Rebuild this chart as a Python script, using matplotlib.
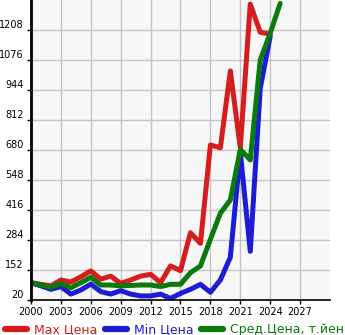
import matplotlib
matplotlib.use("Agg")
import matplotlib.pyplot as plt

# годы и цены (т.йен)
years_max = list(range(2000, 2025))
max_price = [96, 89, 82, 108, 99, 122, 148, 112, 125, 93, 108, 125, 133, 96, 170, 149,
             316, 269, 702, 690, 1028, 690, 1322, 1198, 1190]
years_min = list(range(2000, 2025))
min_price = [96, 82, 67, 79, 46, 64, 90, 57, 46, 61, 46, 38, 38, 46, 27, 49,
             67, 89, 54, 108, 208, 670, 234, 951, 1181]
years_avg = list(range(2000, 2026))
avg_price = [96, 86, 76, 93, 74, 96, 120, 86, 86, 82, 84, 86, 86, 79, 89, 89,
             140, 170, 287, 402, 460, 683, 636, 1076, 1194, 1325]

yticks = [20, 152, 284, 416, 548, 680, 812, 944, 1076, 1208]
xticks = list(range(2000, 2030, 3))

red = "#d61c1c"
blue = "#1c1cd6"
green = "#0a7a0a"

fig = plt.figure(figsize=(3.45, 3.35), dpi=100)
ax = fig.add_axes([31/345, 35/335, 299/345, 300/335])
ax.set_facecolor("#f7f7f7")

ax.plot(years_max, max_price, color=red, lw=3.6, label="Max Цена", solid_capstyle="round")
ax.plot(years_min, min_price, color=blue, lw=3.6, label="Min Цена", solid_capstyle="round")
ax.plot(years_avg, avg_price, color=green, lw=3.6, label="Сред.Цена, т.йен", solid_capstyle="round")

ax.set_xlim(2000, 2030)
ax.set_ylim(20, 1340)
ax.set_xticks(xticks)
ax.set_yticks(yticks)
ax.tick_params(labelsize=7, length=3, width=1, colors="black", pad=2)
for lbl in ax.get_yticklabels():
    lbl.set_verticalalignment("bottom")
ax.grid(True, color="#c4c4c4", lw=1)
ax.set_axisbelow(True)
for s in ["top", "right"]:
    ax.spines[s].set_visible(False)
ax.spines["left"].set_linewidth(2)
ax.spines["bottom"].set_linewidth(1.2)

leg = fig.legend(loc="lower left", bbox_to_anchor=(-0.01, -0.03), ncol=3, frameon=False,
                 fontsize=9, handlelength=1.75, handletextpad=0.55, columnspacing=0.6,
                 borderpad=0.2)
for t, c in zip(leg.get_texts(), [red, blue, green]):
    t.set_color(c)
for h in leg.get_lines():
    h.set_linewidth(4.5)

fig.savefig("out.png", dpi=100)
